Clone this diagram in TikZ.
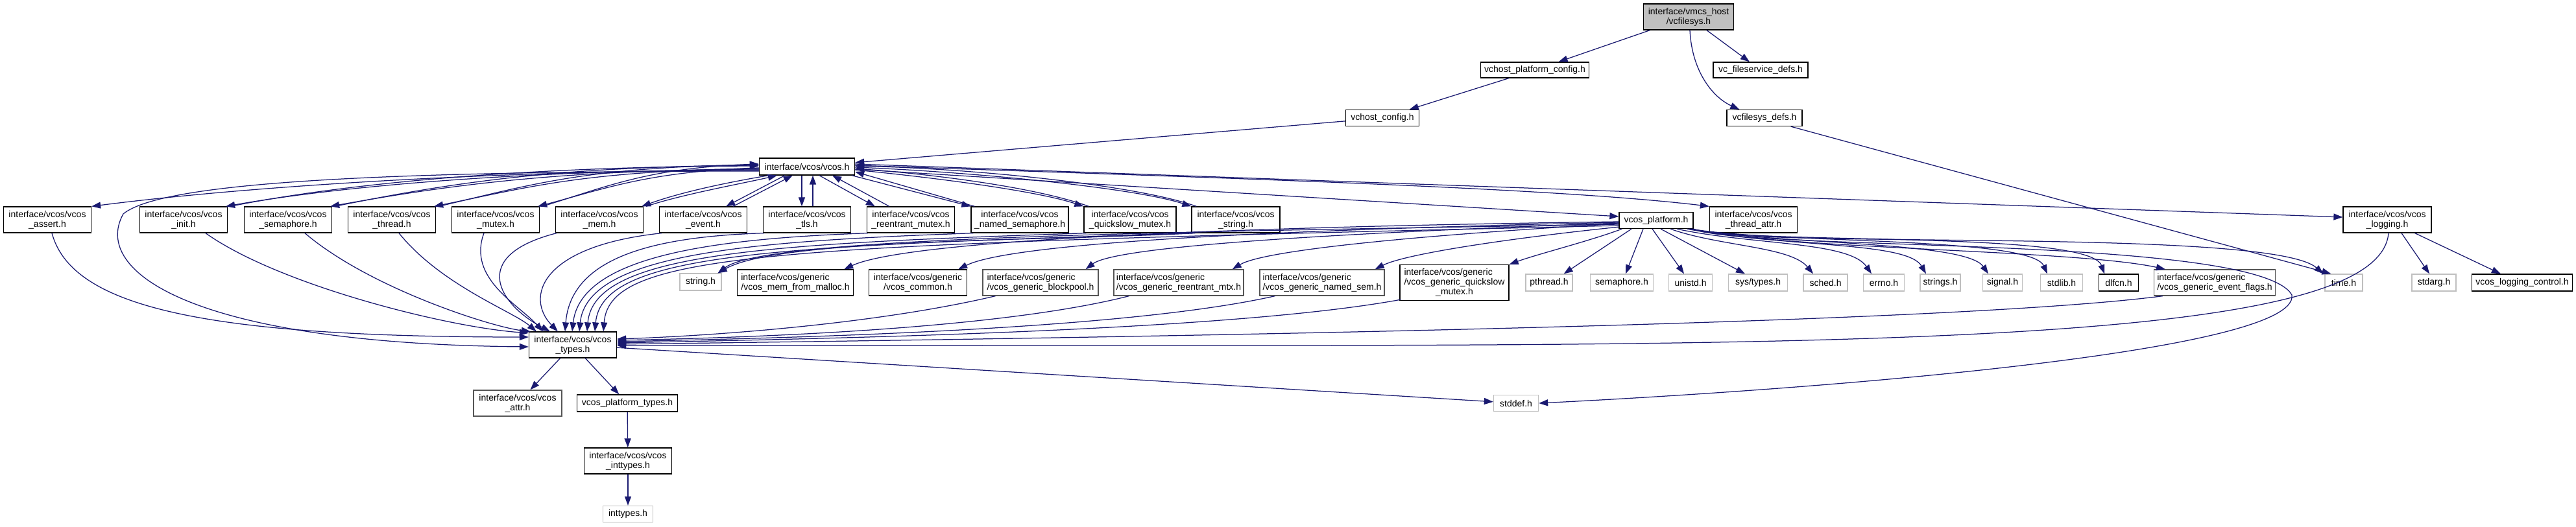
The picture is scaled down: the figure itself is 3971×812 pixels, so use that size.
\documentclass[tikz,border=0pt]{standalone}
\usepackage{fontspec}
\setmainfont{Liberation Sans}
\usetikzlibrary{arrows.meta,calc}
\definecolor{edgecol}{HTML}{191970}
\definecolor{sysgray}{HTML}{BFBFBF}
\definecolor{dkgray}{HTML}{555555}
\definecolor{rootfill}{HTML}{BFBFBF}
\newcommand\dxfont{\fontsize{14}{15}\selectfont}
\begin{document}
\begin{tikzpicture}[x=1pt,y=-1pt,
  box/.style={draw=black,line width=1.3pt,inner sep=0pt,font=\dxfont,align=center,minimum height=25pt,text=black},
  sys/.style={box,draw=sysgray},
  dg/.style={box,draw=dkgray},
  wd/.style={minimum width=#1pt},
  ht/.style={minimum height=#1pt},
  edge/.style={draw=edgecol,line width=1.25pt,-{Triangle[length=14pt,width=10pt]}},
]
\useasboundingbox[fill=white] (0,0) rectangle (3971,812);

% ---- nodes
\node[box,fill=rootfill,wd=139,ht=40] (vcfilesys) at (2603,26) {interface/vmcs\_host\\/vcfilesys.h};
\node[box,wd=167,ht=24] (vhpc) at (2366,108) {vchost\_platform\_config.h};
\node[box,wd=146,ht=24] (vfsd) at (2714,108) {vc\_fileservice\_defs.h};
\node[box,wd=116,ht=25] (vfdefs) at (2720,182) {vcfilesys\_defs.h};
\node[box,wd=113,ht=25] (vhc) at (2131,182) {vchost\_config.h};
\node[box,wd=147,ht=26] (vcos) at (1244,257) {interface/vcos/vcos.h};

\node[box,wd=135,ht=40] (assert) at (73,339) {interface/vcos/vcos\\\_assert.h};
\node[box,wd=135,ht=40] (init) at (283,339) {interface/vcos/vcos\\\_init.h};
\node[box,wd=135,ht=40] (sem) at (444,339) {interface/vcos/vcos\\\_semaphore.h};
\node[box,wd=135,ht=40] (thread) at (604,339) {interface/vcos/vcos\\\_thread.h};
\node[box,wd=135,ht=40] (mutex) at (764,339) {interface/vcos/vcos\\\_mutex.h};
\node[box,wd=135,ht=40] (mem) at (924,339) {interface/vcos/vcos\\\_mem.h};
\node[box,wd=135,ht=40] (event) at (1084,339) {interface/vcos/vcos\\\_event.h};
\node[box,wd=135,ht=40] (tls) at (1244,339) {interface/vcos/vcos\\\_tls.h};
\node[box,wd=135,ht=40] (reent) at (1404,339) {interface/vcos/vcos\\\_reentrant\_mutex.h};
\node[box,wd=150,ht=40] (named) at (1572,339) {interface/vcos/vcos\\\_named\_semaphore.h};
\node[box,wd=142,ht=40] (qs) at (1742,339) {interface/vcos/vcos\\\_quickslow\_mutex.h};
\node[box,wd=136,ht=40] (vstr) at (1905,339) {interface/vcos/vcos\\\_string.h};
\node[box,wd=114,ht=25] (vplat) at (2553,340) {vcos\_platform.h};
\node[box,wd=135,ht=40] (tattr) at (2703,339) {interface/vcos/vcos\\\_thread\_attr.h};
\node[box,wd=136,ht=40] (logging) at (3680,339) {interface/vcos/vcos\\\_logging.h};

\node[sys,wd=64,ht=26] (strh) at (1080,435) {string.h};
\node[box,wd=179,ht=40,align=left] (gmem) at (1226,436) {interface/vcos/generic\\/vcos\_mem\_from\_malloc.h};
\node[box,wd=151,ht=40] (gcommon) at (1415,436) {interface/vcos/generic\\/vcos\_common.h};
\node[dg,wd=178,ht=40,align=left] (gblock) at (1604,436) {interface/vcos/generic\\/vcos\_generic\_blockpool.h};
\node[dg,wd=200,ht=40,align=left] (greent) at (1817,436) {interface/vcos/generic\\/vcos\_generic\_reentrant\_mtx.h};
\node[dg,wd=192,ht=40,align=left] (gnamed) at (2038,436) {interface/vcos/generic\\/vcos\_generic\_named\_sem.h};
\node[box,wd=168,ht=55] (gqs) at (2242,436) {\begin{tabular}{@{}l@{}}interface/vcos/generic\\/vcos\_generic\_quickslow\\\multicolumn{1}{@{}c@{}}{\_mutex.h}\end{tabular}};
\node[sys,wd=72,ht=26] (pthread) at (2388,436) {pthread.h};
\node[sys,wd=97,ht=26] (sema) at (2500,436) {semaphore.h};
\node[sys,wd=67,ht=26] (unistd) at (2606,436) {unistd.h};
\node[sys,wd=91,ht=26] (systypes) at (2710,436) {sys/types.h};
\node[sys,wd=68,ht=26] (sched) at (2814,436) {sched.h};
\node[sys,wd=63,ht=26] (errno) at (2904,436) {errno.h};
\node[sys,wd=62,ht=26] (strings) at (2991,436) {strings.h};
\node[sys,wd=61,ht=26] (signal) at (3087,436) {signal.h};
\node[sys,wd=65,ht=26] (stdlib) at (3178,436) {stdlib.h};
\node[box,wd=61,ht=26] (dlfcn) at (3266,436) {dlfcn.h};
\node[dg,wd=187,ht=40,align=left] (gevent) at (3414,436) {interface/vcos/generic\\/vcos\_generic\_event\_flags.h};
\node[sys,wd=58,ht=26] (timeh) at (3613,436) {time.h};
\node[sys,wd=68,ht=26] (stdarg) at (3752,436) {stdarg.h};
\node[box,wd=155,ht=26] (logctl) at (3888,436) {vcos\_logging\_control.h};

\node[box,wd=135,ht=40] (types) at (883,532) {interface/vcos/vcos\\\_types.h};
\node[dg,wd=136,ht=40] (attr) at (798,622) {interface/vcos/vcos\\\_attr.h};
\node[box,wd=155,ht=26] (ptypes) at (967,622) {vcos\_platform\_types.h};
\node[sys,wd=69,ht=25] (stddef) at (2337,622) {stddef.h};
\node[box,wd=135,ht=40] (vint) at (968,711) {interface/vcos/vcos\\\_inttypes.h};
\node[sys,wd=77,ht=25] (inttypes) at (968,793) {inttypes.h};

% ---- top part
\draw[edge] (vcfilesys) -- (vhpc);
\draw[edge] (vcfilesys) -- (vfsd);
\draw[edge] ($(vcfilesys.south)+(2,0)$) .. controls (2608,110) and (2640,150) .. ($(vfdefs.north west)+(20,0)$);
\draw[edge] (vhpc) -- (vhc);
\draw[edge] (vhc) -- (vcos);
\draw[edge] ($(vfdefs.south east)+(-18,0)$) -- ($(timeh.north west)+(10,0)$);

% ---- vcos.h <-> row 2, left side
\draw[edge] ($(vcos.west)+(0,6)$) .. controls (800,262) and (400,285) .. ($(assert.north east)+(0,0)$);
\draw[edge] ($(vcos.west)+(0,7)$) .. controls (600,264) and (250,280) .. (190,330) .. controls (140,420) and (300,530) .. ($(types.west)+(0,3)$);

\draw[edge] ($(vcos.west)+(0,5)$) .. controls (800,262) and (520,288) .. ($(init.north east)+(-3,0)$);
\draw[edge] ($(init.north east)+(4,0)$) .. controls (525,284) and (800,257) .. ($(vcos.west)+(0,-1)$);
\draw[edge] ($(vcos.west)+(0,4)$) .. controls (850,262) and (680,288) .. ($(sem.north east)+(-3,0)$);
\draw[edge] ($(sem.north east)+(4,0)$) .. controls (685,284) and (850,257) .. ($(vcos.west)+(0,-2)$);
\draw[edge] ($(vcos.west)+(0,3)$) .. controls (900,263) and (810,290) .. ($(thread.north east)+(-3,0)$);
\draw[edge] ($(thread.north east)+(4,0)$) .. controls (815,286) and (900,258) .. ($(vcos.west)+(0,-3)$);
\draw[edge] ($(vcos.west)+(0,2)$) .. controls (1000,264) and (930,292) .. ($(mutex.north east)+(-3,0)$);
\draw[edge] ($(mutex.north east)+(4,0)$) .. controls (935,288) and (1000,259) .. ($(vcos.west)+(0,-4)$);
\draw[edge] ($(vcos.south west)+(15,0)$) .. controls (1100,285) and (1040,300) .. ($(mem.north east)+(-3,0)$);
\draw[edge] ($(mem.north east)+(4,0)$) .. controls (1050,300) and (1150,282) .. ($(vcos.south west)+(28,0)$);
\draw[edge] ($(vcos.south west)+(40,0)$) -- ($(event.north east)+(-33,0)$);
\draw[edge] ($(event.north east)+(-22,0)$) -- ($(vcos.south west)+(52,0)$);
\draw[edge] ($(vcos.south)+(-8,0)$) -- ($(tls.north)+(-8,0)$);
\draw[edge] ($(tls.north)+(9,0)$) -- ($(vcos.south)+(9,0)$);
\draw[edge] ($(vcos.south)+(19,0)$) -- ($(reent.north west)+(13,0)$);
\draw[edge] ($(reent.north west)+(35,0)$) -- ($(vcos.south)+(39,0)$);
\draw[edge] ($(vcos.south east)+(-5,0)$) -- (named.north west);
\draw[edge] ($(named.north west)+(6,0)$) -- ($(vcos.east)+(0,8)$);
\draw[edge] ($(vcos.east)+(0,5)$) .. controls (1450,275) and (1600,295) .. (qs.north west);
\draw[edge] ($(qs.north west)+(8,0)$) .. controls (1600,290) and (1450,270) .. ($(vcos.east)+(0,3)$);
\draw[edge] ($(vcos.east)+(0,1)$) .. controls (1500,265) and (1750,290) .. (vstr.north west);
\draw[edge] ($(vstr.north west)+(8,0)$) .. controls (1750,285) and (1500,260) .. ($(vcos.east)+(0,-1)$);

% ---- vcos.h to the right
\draw[edge] ($(vcos.east)+(0,4)$) -- ($(vplat.west)+(0,-6)$);
\draw[edge] ($(vcos.east)+(0,-2)$) .. controls (1900,275) and (2400,290) .. (tattr.north west);
\draw[edge] ($(vcos.east)+(0,-4)$) -- ($(logging.west)+(0,-4)$);

% ---- row 2 -> types
\draw[edge] ($(assert.south)+(7,0)$) .. controls (110,470) and (300,520) .. (types.170);
\draw[edge] ($(init.south)+(34,0)$) .. controls (430,440) and (690,505) .. (types.165);
\draw[edge] ($(sem.south)+(26,0)$) .. controls (570,445) and (760,505) .. ($(types.north west)+(3,0)$);
\draw[edge] ($(thread.south)+(11,0)$) .. controls (680,440) and (790,480) .. ($(types.north west)+(12,0)$);
\draw[edge] ($(mutex.south)+(-18,0)$) .. controls (720,430) and (800,470) .. ($(types.north west)+(22,0)$);
\draw[edge] ($(mem.south west)+(2,0)$) .. controls (720,395) and (770,470) .. ($(types.north west)+(33,0)$);
\draw[edge] ($(event.south west)+(4,0)$) .. controls (830,380) and (810,460) .. ($(types.north west)+(45,0)$);
\draw[edge] ($(tls.south west)+(2,0)$) .. controls (1000,365) and (880,400) .. ($(types.north)+(-12,0)$);
\draw[edge] ($(reent.south west)+(2,0)$) .. controls (1100,368) and (895,395) .. ($(types.north)+(-1,0)$);
\draw[edge] ($(named.south west)+(4,0)$) .. controls (1150,372) and (905,392) .. ($(types.north)+(10,0)$);
\draw[edge] ($(qs.south west)+(4,0)$) .. controls (1180,376) and (915,390) .. ($(types.north)+(22,0)$);
\draw[edge] ($(vstr.south west)+(2,0)$) .. controls (1200,380) and (928,388) .. ($(types.north)+(34,0)$);
\draw[edge] ($(vstr.south west)+(6,0)$) .. controls (1600,372) and (1200,368) .. ($(strh.north east)+(-6,0)$);

% ---- vcos_platform.h outgoing, left and down
\draw[edge] ($(vplat.west)+(0,6)$) .. controls (1800,358) and (1180,365) .. ($(strh.north east)+(-6,0)$);
\draw[edge] ($(vplat.west)+(0,8)$) .. controls (1200,378) and (940,385) .. ($(types.north east)+(-21,0)$);
\draw[edge] ($(vplat.west)+(0,2)$) .. controls (1900,350) and (1400,370) .. ($(gmem.north east)+(-15,0)$);
\draw[edge] ($(vplat.west)+(0,3)$) .. controls (1950,355) and (1560,375) .. ($(gcommon.north east)+(-14,0)$);
\draw[edge] ($(vplat.west)+(0,4)$) .. controls (2050,360) and (1720,380) .. ($(gblock.north east)+(-20,0)$);
\draw[edge] ($(vplat.west)+(0,5)$) .. controls (2200,362) and (1950,385) .. ($(greent.north east)+(-18,0)$);
\draw[edge] ($(vplat.south west)+(0,-3)$) .. controls (2350,365) and (2170,390) .. ($(gnamed.north east)+(-15,0)$);
\draw[edge] ($(vplat.south west)+(5,0)$) .. controls (2450,372) and (2370,392) .. (gqs.north east);
\draw[edge] ($(vplat.south)+(-38,0)$) -- ($(pthread.north east)+(-14,0)$);
\draw[edge] ($(vplat.south)+(-20,0)$) -- ($(sema.north)+(6,0)$);
\draw[edge] ($(vplat.south)+(-6,0)$) -- ($(unistd.north)+(-10,0)$);
\draw[edge] ($(vplat.south)+(7,0)$) -- ($(systypes.north)+(-20,0)$);
% ---- vcos_platform.h outgoing, to the right (below thread_attr)
\draw[edge] ($(vplat.south)+(22,0)$) .. controls (2650,380) and (2760,380) .. ($(sched.north)+(-19,0)$);
\draw[edge] ($(vplat.south)+(32,0)$) .. controls (2700,378) and (2850,372) .. ($(errno.north)+(-19,0)$);
\draw[edge] ($(vplat.south east)+(-10,0)$) .. controls (2750,382) and (2940,372) .. ($(strings.north)+(-22,0)$);
\draw[edge] ($(vplat.south east)+(-7,0)$) .. controls (2750,378) and (3030,372) .. ($(signal.north)+(-22,0)$);
\draw[edge] ($(vplat.south east)+(-4,0)$) .. controls (2740,376) and (3130,365) .. ($(stdlib.north)+(-22,0)$);
\draw[edge] ($(vplat.south east)+(-2,0)$) .. controls (2700,378) and (3220,355) .. ($(dlfcn.north)+(-22,0)$);
\draw[edge] ($(vplat.south east)+(-5,0)$) .. controls (2750,385) and (3200,385) .. ($(gevent.north west)+(18,0)$);
\draw[edge] (vplat.south east) .. controls (2680,385) and (3500,350) .. ($(timeh.north west)+(-2,0)$);
\draw[edge] ($(vplat.south east)+(-1,0)$) .. controls (2690,388) and (3480,362) .. (3533,455) .. controls (3545,540) and (2850,598) .. (stddef.east);

% ---- generic -> types
\draw[edge] ($(gblock.south west)+(20,0)$) .. controls (1350,500) and (1100,518) .. ($(types.east)+(0,-9)$);
\draw[edge] ($(greent.south west)+(24,0)$) .. controls (1550,505) and (1200,520) .. ($(types.east)+(0,-7)$);
\draw[edge] ($(gnamed.south west)+(24,0)$) .. controls (1750,505) and (1300,520) .. ($(types.east)+(0,-5)$);
\draw[edge] ($(gqs.south west)+(2,-2)$) .. controls (1900,510) and (1300,522) .. ($(types.east)+(0,-3)$);
\draw[edge] ($(gevent.south west)+(14,0)$) .. controls (3000,500) and (1800,520) .. ($(types.east)+(0,-1)$);

% ---- logging
\draw[edge] ($(logging.south)+(2,0)$) .. controls (3665,560) and (2600,530) .. ($(types.east)+(0,1)$);
\draw[edge] ($(logging.south)+(22,0)$) -- ($(stdarg.north)+(-7,0)$);
\draw[edge] ($(logging.south east)+(-26,0)$) -- ($(logctl.north west)+(45,0)$);

% ---- types and below
\draw[edge] (types) -- (attr);
\draw[edge] (types) -- (ptypes);
\draw[edge] (types) -- (stddef);
\draw[edge] (ptypes) -- (vint);
\draw[edge] (vint) -- (inttypes);
\end{tikzpicture}
\end{document}
